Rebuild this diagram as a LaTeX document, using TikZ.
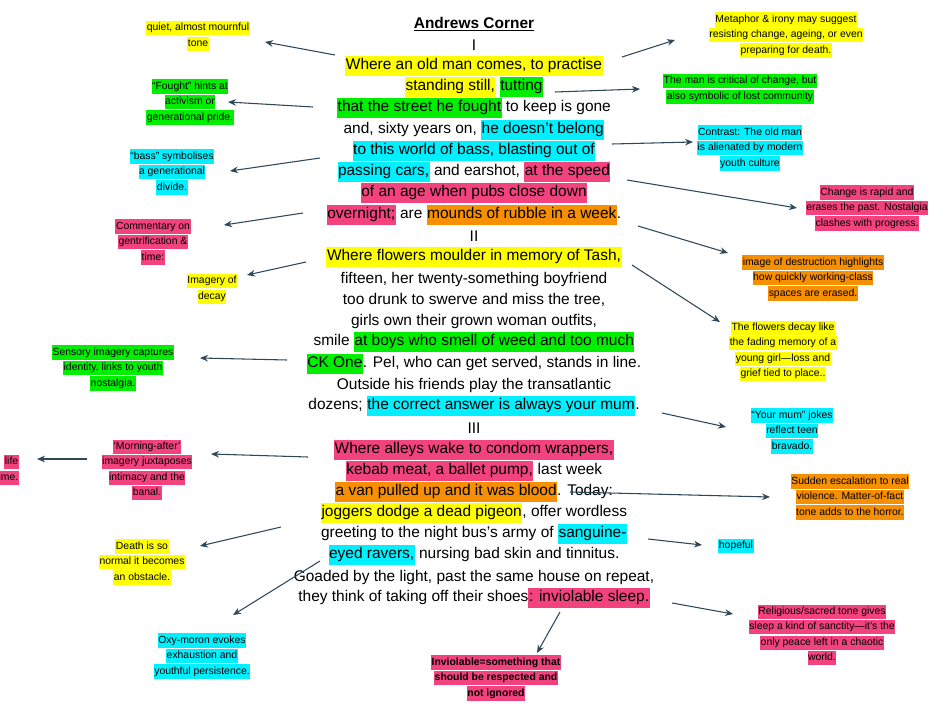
\documentclass[tikz,border=0pt]{standalone}
\usepackage{fontspec}
\setmainfont{Liberation Sans}
\usetikzlibrary{arrows.meta}
\definecolor{hy}{HTML}{FFFF00}
\definecolor{hg}{HTML}{00EE00}
\definecolor{hc}{HTML}{00F0FF}
\definecolor{hp}{HTML}{F2437F}
\definecolor{ho}{HTML}{F79000}
\definecolor{arr}{HTML}{2F4858}
\newcommand\hlx[2]{{\setlength{\fboxsep}{0.4pt}\colorbox{#1}{\strut #2}}}
\tikzset{
 poem/.style={font=\fontsize{11.6}{14}\selectfont, inner sep=0pt, anchor=center},
 note/.style={font=\fontsize{7.8}{9.8}\selectfont, align=center, inner sep=0pt},
 ar/.style={draw=arr, line width=0.8pt, -{Stealth[length=6pt,width=5pt]}}
}
\begin{document}
\begin{tikzpicture}[x=0.75pt,y=-0.75pt]
\useasboundingbox (0,0) rectangle (943,707);
\fill[white] (0,0) rectangle (943,707);
% poem
\node[poem,font=\fontsize{11.6}{14}\bfseries] (title) at (474,24) {\underline{Andrews Corner}};
\node[poem] (s1) at (474,45) {I};
\node[poem] (l1) at (474,66) {\hlx{hy}{Where an old man comes, to practise}};
\node[poem] (l2) at (474,87) {\hlx{hy}{standing still,} \hlx{hg}{tutting}};
\node[poem] (l3) at (474,108) {\hlx{hg}{that the street he fought} to keep is gone};
\node[poem] (l4) at (474,130) {and, sixty years on, \hlx{hc}{he doesn’t belong}};
\node[poem] (l5) at (474,151) {\hlx{hc}{to this world of bass, blasting out of}};
\node[poem] (l6) at (474,172) {\hlx{hc}{passing cars,} and earshot, \hlx{hp}{at the speed}};
\node[poem] (l7) at (474,193) {\hlx{hp}{of an age when pubs close down}};
\node[poem] (l8) at (474,215) {\hlx{hp}{overnight;} are \hlx{ho}{mounds of rubble in a week}.};
\node[poem] (s2) at (474,236) {II};
\node[poem] (l9) at (474,257) {\hlx{hy}{Where flowers moulder in memory of Tash,}};
\node[poem] (l10) at (474,279) {fifteen, her twenty-something boyfriend};
\node[poem] (l11) at (474,300) {too drunk to swerve and miss the tree,};
\node[poem] (l12) at (474,321) {girls own their grown woman outfits,};
\node[poem] (l13) at (474,342) {smile \hlx{hg}{at boys who smell of weed and too much}};
\node[poem] (l14) at (474,364) {\hlx{hg}{CK One}. Pel, who can get served, stands in line.};
\node[poem] (l15) at (474,385) {Outside his friends play the transatlantic};
\node[poem] (l16) at (474,406) {dozens; \hlx{hc}{the correct answer is always your mum}.};
\node[poem] (s3) at (474,428) {III};
\node[poem] (l17) at (474,450) {\hlx{hp}{Where alleys wake to condom wrappers,}};
\node[poem] (l18) at (474,471) {\hlx{hp}{kebab meat, a ballet pump,} last week};
\node[poem] (l19) at (474,492) {\hlx{ho}{a van pulled up and it was blood}. Today:};
\node[poem] (l20) at (474,513) {\hlx{hy}{joggers dodge a dead pigeon}, offer wordless};
\node[poem] (l21) at (474,534) {greeting to the night bus’s army of \hlx{hc}{sanguine-}};
\node[poem] (l22) at (474,555) {\hlx{hc}{eyed ravers,} nursing bad skin and tinnitus.};
\node[poem] (l23) at (474,577) {Goaded by the light, past the same house on repeat,};
\node[poem] (l24) at (474,598) {they think of taking off their shoes\hlx{hp}{: inviolable sleep.}};
% notes
\node[note] (a1) at (198,36) {\hlx{hy}{quiet, almost mournful}\\\hlx{hy}{tone}};
\node[note] (a2) at (786,35) {\hlx{hy}{Metaphor \& irony may suggest}\\\hlx{hy}{resisting change, ageing, or even}\\\hlx{hy}{preparing for death.}};
\node[note] (a3) at (190,102) {\hlx{hg}{“Fought” hints at}\\\hlx{hg}{activism or}\\\hlx{hg}{generational pride.}};
\node[note] (a4) at (740,89) {\hlx{hg}{The man is critical of change, but}\\\hlx{hg}{also symbolic of lost community}};
\node[note] (a5) at (172,172) {\hlx{hc}{“bass” symbolises}\\\hlx{hc}{a generational}\\\hlx{hc}{divide.}};
\node[note] (a6) at (750,148) {\hlx{hc}{Contrast: The old man}\\\hlx{hc}{is alienated by modern}\\\hlx{hc}{youth culture}};
\node[note] (a7) at (153,242) {\hlx{hp}{Commentary on}\\\hlx{hp}{gentrification \&}\\\hlx{hp}{time:}};
\node[note] (a8) at (867,208) {\hlx{hp}{Change is rapid and}\\\hlx{hp}{erases the past. Nostalgia}\\\hlx{hp}{clashes with progress.}};
\node[note] (a9) at (212,289) {\hlx{hy}{Imagery of}\\\hlx{hy}{decay}};
\node[note] (a10) at (813,278) {\hlx{ho}{image of destruction highlights}\\\hlx{ho}{how quickly working-class}\\\hlx{ho}{spaces are erased.}};
\node[note] (a11) at (783,351) {\hlx{hy}{The flowers decay like}\\\hlx{hy}{the fading memory of a}\\\hlx{hy}{young girl—loss and}\\\hlx{hy}{grief tied to place..}};
\node[note] (a12) at (113,368) {\hlx{hg}{Sensory imagery captures}\\\hlx{hg}{identity, links to youth}\\\hlx{hg}{nostalgia.}};
\node[note] (a13) at (792,431) {\hlx{hc}{“Your mum” jokes}\\\hlx{hc}{reflect teen}\\\hlx{hc}{bravado.}};
\node[note] (a14) at (147,470) {\hlx{hp}{‘Morning-after’}\\\hlx{hp}{imagery juxtaposes}\\\hlx{hp}{intimacy and the}\\\hlx{hp}{banal.}};
\node[note,anchor=east,align=right] (a14b) at (19,470) {\hlx{hp}{life}\\\hlx{hp}{ime.}};
\node[note] (a15) at (850,497) {\hlx{ho}{Sudden escalation to real}\\\hlx{ho}{violence. Matter-of-fact}\\\hlx{ho}{tone adds to the horror.}};
\node[note] (a16) at (142,562) {\hlx{hy}{Death is so}\\\hlx{hy}{normal it becomes}\\\hlx{hy}{an obstacle.}};
\node[note] (a17) at (736,546) {\hlx{hc}{hopeful}};
\node[note] (a18) at (202,656) {\hlx{hc}{Oxy-moron evokes}\\\hlx{hc}{exhaustion and}\\\hlx{hc}{youthful persistence.}};
\node[note] (a19) at (822,635) {\hlx{hp}{Religious/sacred tone gives}\\\hlx{hp}{sleep a kind of sanctity—it’s the}\\\hlx{hp}{only peace left in a chaotic}\\\hlx{hp}{world.}};
\node[note,font=\fontsize{7.8}{9.8}\selectfont\bfseries] (a20) at (496,678) {\hlx{hp}{Inviolable=something that}\\\hlx{hp}{should be respected and}\\\hlx{hp}{not ignored}};
% arrow coordinates
\coordinate (f1) at (335,55); \coordinate (t1) at (265,42);
\coordinate (f2) at (622,57); \coordinate (t2) at (675,40);
\coordinate (f3) at (313,107); \coordinate (t3) at (228,102);
\coordinate (f4) at (555,92); \coordinate (t4) at (640,89);
\coordinate (f5) at (320,158); \coordinate (t5) at (230,171);
\coordinate (f6) at (612,144); \coordinate (t6) at (693,142);
\coordinate (f7) at (303,213); \coordinate (t7) at (224,225);
\coordinate (f8) at (627,180); \coordinate (t8) at (797,208);
\coordinate (f9) at (306,262); \coordinate (t9) at (247,275);
\coordinate (f10) at (638,226); \coordinate (t10) at (728,253);
\coordinate (f11) at (632,265); \coordinate (t11) at (720,322);
\coordinate (f12) at (287,360); \coordinate (t12) at (200,358);
\coordinate (f13) at (662,413); \coordinate (t13) at (726,427);
\coordinate (f14) at (308,457); \coordinate (t14) at (211,454);
\coordinate (f14b) at (87,459); \coordinate (t14b) at (37,459);
\coordinate (f15) at (570,492); \coordinate (t15) at (770,497);
\coordinate (f16) at (281,527); \coordinate (t16) at (200,546);
\coordinate (f17) at (648,539); \coordinate (t17) at (702,545);
\coordinate (f18) at (320,561); \coordinate (t18) at (233,615);
\coordinate (f19) at (672,603); \coordinate (t19) at (733,614);
\coordinate (f20) at (560,612); \coordinate (t20) at (537,653);
\foreach \i in {1,...,13,14,14b,15,16,17,18,19,20} {\draw[ar] (f\i) -- (t\i);}
\end{tikzpicture}
\end{document}
